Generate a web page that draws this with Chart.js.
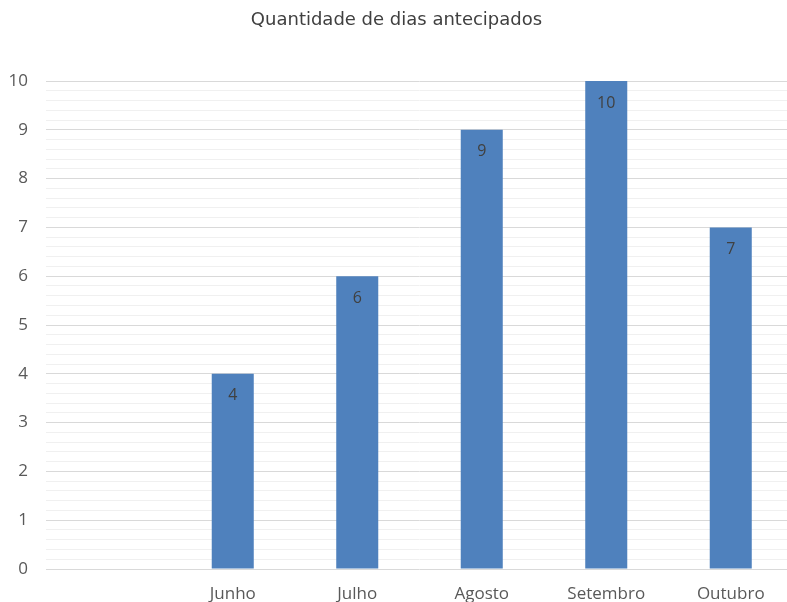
<!DOCTYPE html>
<html>
<head>
<meta charset="utf-8">
<script src="https://cdn.jsdelivr.net/npm/chart.js@4/dist/chart.umd.min.js"></script>
<style>
html,body{margin:0;padding:0;background:#fff;overflow:hidden;}
#wrap{width:793px;height:602px;}
</style>
</head>
<body>
<div id="wrap"><canvas id="c" width="793" height="602"></canvas></div>
<script>
const categories = ["", "Junho", "Julho", "Agosto", "Setembro", "Outubro"];
const diasAntecipados = [null, 4, 6, 9, 10, 7];
const chartTitle = "Quantidade de dias antecipados";
const yMin = 0, yMax = 10, yStep = 0.2;

const isMajor = v => Math.abs(v - Math.round(v)) < 1e-6;

const dataLabels = {
  id: 'dataLabels',
  afterDatasetsDraw(chart) {
    const ctx = chart.ctx;
    const meta = chart.getDatasetMeta(0);
    ctx.save();
    ctx.font = '16px "Open Sans"';
    ctx.fillStyle = '#404040';
    ctx.textAlign = 'center';
    ctx.textBaseline = 'middle';
    meta.data.forEach((bar, i) => {
      const v = diasAntecipados[i];
      if (v === null || v === undefined) return;
      ctx.fillText(String(v), bar.x, bar.y + 22);
    });
    ctx.restore();
  }
};

new Chart(document.getElementById('c'), {
  type: 'bar',
  data: {
    labels: categories,
    datasets: [{
      data: diasAntecipados,
      backgroundColor: '#4f81bd',
      borderWidth: 0,
      barPercentage: 0.5,
      categoryPercentage: 0.675
    }]
  },
  options: {
    responsive: false,
    animation: false,
    devicePixelRatio: 1,
    layout: { padding: { left: 0, right: 0, top: 0, bottom: 0 } },
    plugins: {
      legend: { display: false },
      tooltip: { enabled: false },
      title: {
        display: true,
        text: chartTitle,
        color: '#404040',
        font: { family: 'DejaVu Sans', size: 18, weight: 'normal', lineHeight: 1.2 },
        padding: { top: 10, bottom: 49.4 }
      }
    },
    scales: {
      x: {
        grid: { display: false, drawTicks: false },
        border: { display: false },
        ticks: {
          color: '#595959',
          font: { family: 'Open Sans', size: 17 },
          padding: 15,
          maxRotation: 0,
          autoSkip: false
        },
        afterFit(scale) { scale.height = 33; }
      },
      y: {
        min: yMin,
        max: yMax,
        grid: {
          drawTicks: false,
          color: ctx => isMajor(ctx.tick.value) ? '#d9d9d9' : '#f0f0f0',
          lineWidth: 1
        },
        border: { display: false },
        ticks: {
          stepSize: yStep,
          autoSkip: false,
          color: '#595959',
          font: { family: 'Open Sans', size: 17 },
          padding: 18,
          callback: v => isMajor(v) ? String(Math.round(v)) : ''
        },
        afterFit(scale) { scale.width = 46; }
      }
    }
  },
  plugins: [dataLabels]
});
</script>
</body>
</html>
